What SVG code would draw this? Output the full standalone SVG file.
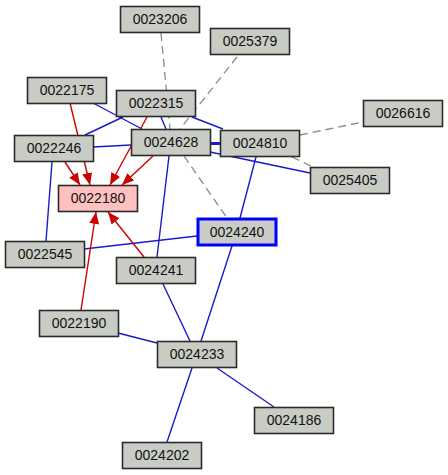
<svg xmlns="http://www.w3.org/2000/svg" width="448" height="475" viewBox="0 0 448 475">
<style>
.n rect{fill:#c9cbc5;stroke:#2b2b2b;stroke-width:1.6}
.n text{font-family:"Liberation Sans",Arial,sans-serif;font-size:14px;fill:#111;text-anchor:middle}
.b{stroke:#1a1acc;stroke-width:1.4;fill:none}
.r{stroke:#cc0000;stroke-width:1.4;fill:none;marker-end:url(#ah)}
.g{stroke:#8a8a8a;stroke-width:1.3;fill:none;stroke-dasharray:8,5}
</style>
<defs>
<marker id="ah" viewBox="0 0 12 10" refX="12" refY="5" markerWidth="12" markerHeight="10" markerUnits="userSpaceOnUse" orient="auto">
<path d="M0,0 L12,5 L0,10 z" fill="#cc0000"/>
</marker>
</defs>
<rect width="448" height="475" fill="#fff"/>
<g id="connectors">
<line class="g" x1="161" y1="33" x2="170" y2="129"/>
<line class="g" x1="237" y1="57" x2="180" y2="129"/>
<line class="g" x1="300" y1="135" x2="363" y2="122"/>
<line class="g" x1="292" y1="157" x2="313" y2="167"/>
<line class="g" x1="184" y1="156" x2="227" y2="218"/>
<line class="b" x1="93" y1="103" x2="142" y2="129"/>
<line class="b" x1="85" y1="135" x2="123" y2="117"/>
<line class="b" x1="93" y1="147" x2="131" y2="145"/>
<line class="b" x1="161" y1="117" x2="166" y2="129"/>
<line class="b" x1="192" y1="117" x2="223" y2="129"/>
<line class="b" x1="210" y1="143.5" x2="220" y2="143.5" style="stroke-width:3"/>
<line class="b" x1="210" y1="152" x2="310" y2="173"/>
<line class="b" x1="256" y1="157" x2="240" y2="218"/>
<line class="b" x1="169" y1="156" x2="157" y2="257"/>
<line class="b" x1="52" y1="162" x2="46" y2="241"/>
<line class="b" x1="84" y1="249" x2="197" y2="236"/>
<line class="b" x1="232" y1="246" x2="201" y2="341"/>
<line class="b" x1="163" y1="284" x2="190" y2="341"/>
<line class="b" x1="118" y1="333" x2="157" y2="343"/>
<line class="b" x1="217" y1="368" x2="274" y2="407"/>
<line class="b" x1="192" y1="368" x2="167" y2="442"/>
<line class="r" x1="70" y1="103" x2="90" y2="185"/>
<line class="r" x1="65" y1="162" x2="80" y2="185"/>
<line class="r" x1="147" y1="117" x2="110" y2="185"/>
<line class="r" x1="153" y1="156" x2="122" y2="185"/>
<line class="r" x1="144" y1="257" x2="108" y2="212"/>
<line class="r" x1="81" y1="310" x2="96" y2="212"/>
</g>
<g id="n0023206" class="n"><rect x="120.5" y="6.5" width="79" height="26"/><text x="160" y="24">0023206</text></g>
<g id="n0025379" class="n"><rect x="210.5" y="28.5" width="79" height="26"/><text x="250" y="46">0025379</text></g>
<g id="n0022175" class="n"><rect x="27.5" y="77.5" width="79" height="26"/><text x="67" y="95">0022175</text></g>
<g id="n0022315" class="n"><rect x="116.5" y="90.5" width="79" height="26"/><text x="156" y="108">0022315</text></g>
<g id="n0026616" class="n"><rect x="363.5" y="100.5" width="79" height="26"/><text x="403" y="118">0026616</text></g>
<g id="n0022246" class="n"><rect x="14.5" y="135.5" width="79" height="26"/><text x="54" y="153">0022246</text></g>
<g id="n0024628" class="n"><rect x="131.5" y="129.5" width="79" height="26"/><text x="171" y="147">0024628</text></g>
<g id="n0024810" class="n"><rect x="220.5" y="130.5" width="79" height="26"/><text x="260" y="148">0024810</text></g>
<g id="n0025405" class="n"><rect x="310.5" y="167.5" width="79" height="26"/><text x="350" y="185">0025405</text></g>
<g id="n0022180" class="n"><rect x="58.5" y="185.5" width="79" height="26" style="fill:#ffc0c0"/><text x="98" y="203">0022180</text></g>
<g id="n0024240" class="n"><rect x="198" y="219" width="78" height="26" style="stroke:#0000ff;stroke-width:3"/><text x="237" y="237">0024240</text></g>
<g id="n0022545" class="n"><rect x="5.5" y="241.5" width="79" height="26"/><text x="45" y="259">0022545</text></g>
<g id="n0024241" class="n"><rect x="116.5" y="257.5" width="79" height="26"/><text x="156" y="275">0024241</text></g>
<g id="n0022190" class="n"><rect x="39.5" y="310.5" width="79" height="26"/><text x="79" y="328">0022190</text></g>
<g id="n0024233" class="n"><rect x="157.5" y="341.5" width="79" height="26"/><text x="197" y="359">0024233</text></g>
<g id="n0024186" class="n"><rect x="254.5" y="407.5" width="79" height="26"/><text x="294" y="425">0024186</text></g>
<g id="n0024202" class="n"><rect x="122.5" y="442.5" width="79" height="26"/><text x="162" y="460">0024202</text></g>
</svg>
